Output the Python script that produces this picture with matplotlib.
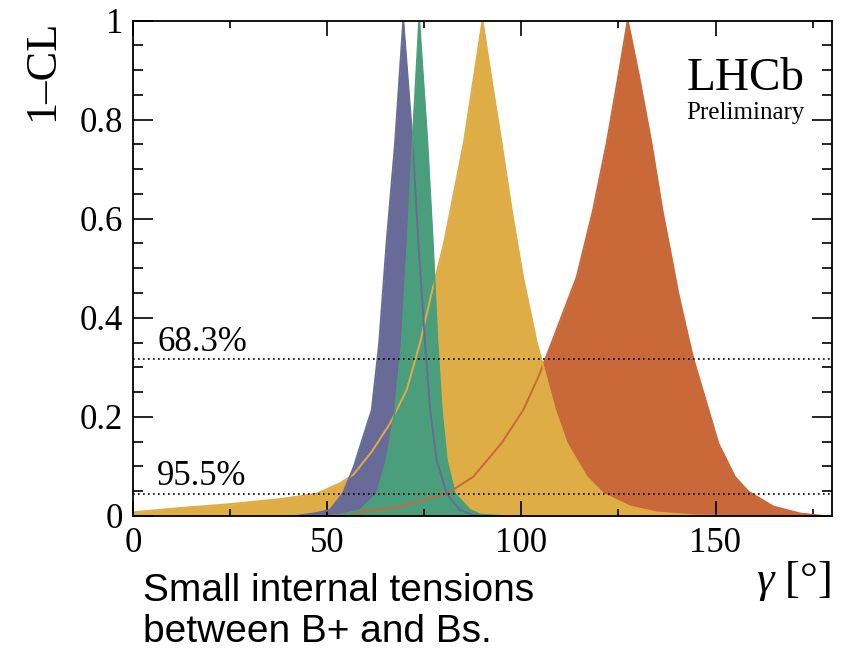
# ____Import packages_____
import numpy as np
import matplotlib.pyplot as plt

plt.rcParams['font.family'] = ['Liberation Serif', 'DejaVu Serif']
plt.rcParams['mathtext.fontset'] = 'custom'
plt.rcParams['mathtext.it'] = 'Liberation Serif:italic'
plt.rcParams['mathtext.rm'] = 'Liberation Serif'

# 1-CL profiles for gamma [deg]
purple_x = [42, 47.3, 50.7, 54.1, 56.9, 59.3, 61.5, 63.4, 65.3, 67.5, 69.6,
            72.0, 73.5, 75.2, 76.5, 78.2, 80.8, 84.2, 87.6, 92]
purple_y = [0, 0.006, 0.012, 0.046, 0.1, 0.16, 0.214, 0.349, 0.551, 0.753, 1.0,
            0.753, 0.551, 0.349, 0.214, 0.113, 0.045, 0.012, 0.002, 0]

green_x = [52, 58.5, 62.8, 65.3, 67.5, 69.2, 70.7, 72.0, 73.7,
           75.8, 77.2, 78.4, 79.5, 80.8, 82.9, 86.8, 89.5, 95]
green_y = [0, 0.012, 0.045, 0.113, 0.214, 0.349, 0.551, 0.753, 1.0,
           0.753, 0.551, 0.349, 0.214, 0.113, 0.045, 0.012, 0.003, 0]

yellow_x = [0, 12.1, 25, 37.9, 47.3, 53.3, 56.7, 61.5, 66.2, 70.5, 73.9, 76.9,
            80.1, 85.2, 87.6, 90.0, 92.1, 94.9, 97.5, 100.4, 104.0, 108.7,
            111.7, 116.8, 121.1, 128, 134.9, 145, 155]
yellow_y = [0.0075, 0.016, 0.024, 0.034, 0.045, 0.066, 0.083, 0.13, 0.187,
            0.255, 0.349, 0.45, 0.551, 0.753, 0.876, 1.0, 0.892, 0.753, 0.618,
            0.483, 0.349, 0.214, 0.147, 0.079, 0.045, 0.019, 0.007, 0.001, 0]

orange_x = [50, 55, 68.8, 80.8, 87.6, 94.9, 100.5, 104.4, 107.8, 114.3, 118.5,
            122.0, 125.0, 127.4, 130.3, 133.5, 136.3, 138.3, 140.4, 143.0,
            144.3, 148.2, 150.7, 155.0, 158.5, 164.9, 171.8, 178]
orange_y = [0, 0.005, 0.019, 0.045, 0.079, 0.147, 0.214, 0.281, 0.349, 0.483,
            0.618, 0.753, 0.888, 1.0, 0.888, 0.753, 0.618, 0.537, 0.45, 0.36,
            0.317, 0.214, 0.147, 0.079, 0.049, 0.019, 0.005, 0]

cl_levels = [0.317, 0.045]
cl_labels = ['68.3%', '95.5%']

col_purple = '#686a98'
col_green = '#4b9e7b'
col_yellow = '#dead46'
col_orange = '#c96838'

fig = plt.figure(figsize=(8.48, 6.5), dpi=100)
ax = fig.add_axes([133 / 848, 1 - 516 / 650, 699 / 848, 495.5 / 650])

# fills (back to front), then the outlines on top
curves = [(orange_x, orange_y, col_orange),
          (yellow_x, yellow_y, col_yellow),
          (purple_x, purple_y, col_purple),
          (green_x, green_y, col_green)]
for cx, cy, c in curves:
    ax.fill_between(cx, cy, 0, color=c, linewidth=0, zorder=1)
for cx, cy, c in curves:
    ax.plot(cx, cy, color=c, lw=1.4, zorder=2)

# CL reference lines
for lev, lab in zip(cl_levels, cl_labels):
    ax.axhline(lev, color='black', lw=1.2, ls=(0, (1, 2)), zorder=3)
    ax.text(6.2, lev + 0.017, lab, fontsize=25, va='baseline', ha='left')

ax.set_xlim(0, 180)
ax.set_ylim(0, 1)
ax.set_xticks(np.arange(0, 151, 50))
ax.set_xticks(np.arange(25, 180, 50), minor=True)
ax.set_yticks(np.arange(0, 1.01, 0.2))
ax.set_yticks(np.arange(0, 1.01, 0.05), minor=True)
ax.set_yticklabels(['0', '0.2', '0.4', '0.6', '0.8', '1'])
ax.tick_params(which='both', direction='in', top=True, right=True,
               labelsize=25, width=1.2)
ax.tick_params(axis='x', which='major', length=10.8, pad=8)
ax.tick_params(axis='x', which='minor', length=5)
ax.tick_params(axis='y', which='major', length=14.4, pad=7)
ax.tick_params(axis='y', which='minor', length=7.2)
for s in ax.spines.values():
    s.set_linewidth(1.3)

# axis titles
fig.text(831 / 848, 1 - 592 / 650, r'$\gamma$ [°]', fontsize=32,
         ha='right', va='baseline')
fig.text(62 / 848, 1 - 20 / 650, '1–CL', fontsize=32, rotation=90,
         ha='right', va='top')

# LHCb label
ax.text(0.792, 1 - 70 / 495.5, 'LHCb', transform=ax.transAxes,
        fontsize=34, va='baseline', ha='left')
ax.text(0.792, 1 - 98 / 495.5, 'Preliminary', transform=ax.transAxes,
        fontsize=18, va='baseline', ha='left')

# slide comment below the plot
fig.text(143 / 848, 1 - 601 / 650, 'Small internal tensions',
         family='Liberation Sans', fontsize=28, va='baseline')
fig.text(143 / 848, 1 - 642 / 650, 'between B+ and Bs.',
         family='Liberation Sans', fontsize=28, va='baseline')

fig.savefig('out.png', dpi=100)
